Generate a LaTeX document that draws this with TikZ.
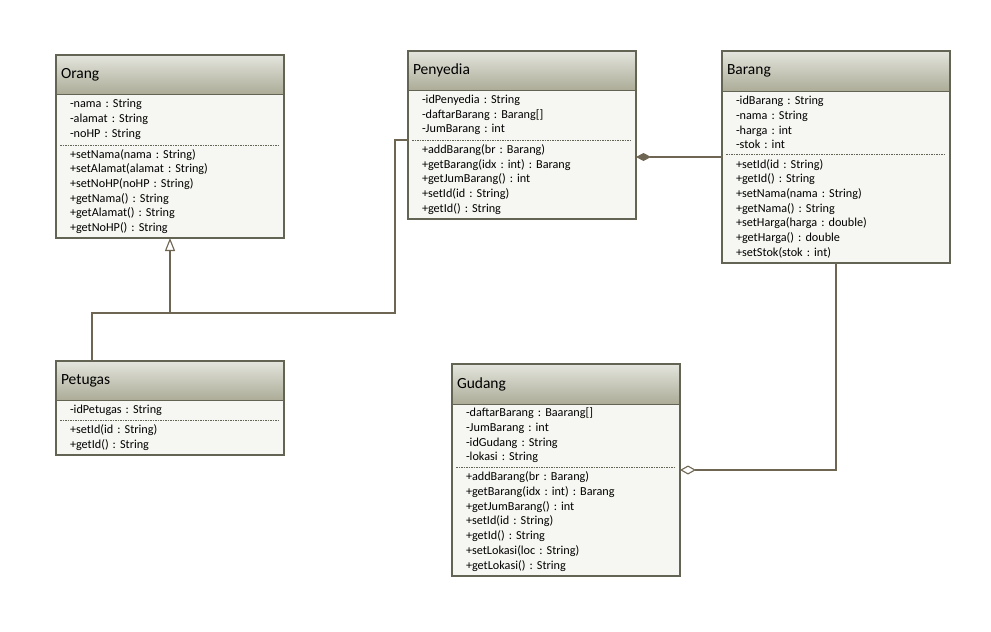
\documentclass[tikz,border=0pt]{standalone}
\usepackage{fontspec}
\setmainfont{Carlito}
\frenchspacing
\usetikzlibrary{arrows.meta, positioning}
\definecolor{frameclr}{RGB}{100,100,84}
\definecolor{lineclr}{RGB}{110,102,82}
\definecolor{headtop}{RGB}{228,229,221}
\definecolor{headbot}{RGB}{172,172,152}
\definecolor{bodyclr}{RGB}{246,246,242}

\begin{document}
\begin{tikzpicture}[
    x=1pt, y=-1pt,
    classhead/.style={anchor=north west, minimum width=228pt, text width=218pt, inner xsep=5pt, inner ysep=0pt, outer sep=0pt, align=left, top color=headtop, bottom color=headbot, font=\fontsize{15.5}{17}\selectfont},
    members/.style={minimum width=228pt, text width=200pt, inner xsep=14pt, inner ysep=1pt, outer sep=0pt, align=left, fill=bodyclr, font=\fontsize{12.2}{14.7}\selectfont},
    frame/.style={draw=frameclr, line width=1.2pt},
    sepline/.style={draw=frameclr, line width=0.7pt, dash pattern=on 1.5pt off 1pt},
    conn/.style={draw=lineclr, line width=1.1pt},
    gen/.style={conn, -{Triangle[open, length=13pt, width=10pt, fill=white]}},
    comp/.style={conn, -{Diamond[length=15pt, width=8pt]}},
    aggr/.style={conn, -{Diamond[open, length=16pt, width=9pt, fill=white]}}
]
    \useasboundingbox (0,0) rectangle (991,632);

    % Orang
    \node[classhead, minimum height=39pt] (org-head) at (56,55) {Orang};
    \node[members, minimum height=51pt, below=0pt of org-head] (org-attr) {-nama : String\\-alamat : String\\-noHP : String};
    \node[members, minimum height=93pt, below=0pt of org-attr] (org-ops) {+setNama(nama : String)\\+setAlamat(alamat : String)\\+setNoHP(noHP : String)\\+getNama() : String\\+getAlamat() : String\\+getNoHP() : String};

    % Penyedia
    \node[classhead, minimum height=39pt] (pny-head) at (408,51) {Penyedia};
    \node[members, minimum height=50pt, below=0pt of pny-head] (pny-attr) {-idPenyedia : String\\-daftarBarang : Barang[]\\-JumBarang : int};
    \node[members, minimum height=79pt, below=0pt of pny-attr] (pny-ops) {+addBarang(br : Barang)\\+getBarang(idx : int) : Barang\\+getJumBarang() : int\\+setId(id : String)\\+getId() : String};

    % Barang
    \node[classhead, minimum height=40pt] (brg-head) at (722,51) {Barang};
    \node[members, minimum height=63pt, below=0pt of brg-head] (brg-attr) {-idBarang : String\\-nama : String\\-harga : int\\-stok : int};
    \node[members, minimum height=109pt, below=0pt of brg-attr] (brg-ops) {+setId(id : String)\\+getId() : String\\+setNama(nama : String)\\+getNama() : String\\+setHarga(harga : double)\\+getHarga() : double\\+setStok(stok : int)};

    % Petugas
    \node[classhead, minimum height=39pt] (ptg-head) at (56,361) {Petugas};
    \node[members, minimum height=20pt, below=0pt of ptg-head] (ptg-attr) {-idPetugas : String};
    \node[members, minimum height=35pt, below=0pt of ptg-attr] (ptg-ops) {+setId(id : String)\\+getId() : String};

    % Gudang
    \node[classhead, minimum height=40pt] (gdg-head) at (452,364) {Gudang};
    \node[members, minimum height=63pt, below=0pt of gdg-head] (gdg-attr) {-daftarBarang : Baarang[]\\-JumBarang : int\\-idGudang : String\\-lokasi : String};
    \node[members, minimum height=109pt, below=0pt of gdg-attr] (gdg-ops) {+addBarang(br : Barang)\\+getBarang(idx : int) : Barang\\+getJumBarang() : int\\+setId(id : String)\\+getId() : String\\+setLokasi(loc : String)\\+getLokasi() : String};

    % Frames and compartments
    \foreach \c in {org,pny,brg,ptg,gdg} {
        \draw[frame] (\c-head.north west) rectangle (\c-ops.south east);
        \draw[draw=frameclr, line width=1pt] (\c-head.south west) -- (\c-head.south east);
        \draw[sepline] ([xshift=4pt]\c-attr.south west) -- ([xshift=-4pt]\c-attr.south east);
    }

    % Inheritance
    \coordinate (joint) at (170,313);
    \draw[conn] ([xshift=36pt]ptg-head.north west) |- (joint);
    \draw[conn] (pny-attr.south west) -- ++(-13,0) |- (joint);
    \draw[gen] (joint) -- (org-ops.south);

    % Composition and aggregation
    \coordinate (cmp) at ([yshift=-3pt]brg-attr.south west);
    \draw[comp] (cmp) -- (cmp -| pny-ops.east);
    \coordinate (agg) at ([yshift=-3pt]gdg-attr.south east);
    \draw[aggr] (brg-ops.south) |- (agg);
\end{tikzpicture}
\end{document}
